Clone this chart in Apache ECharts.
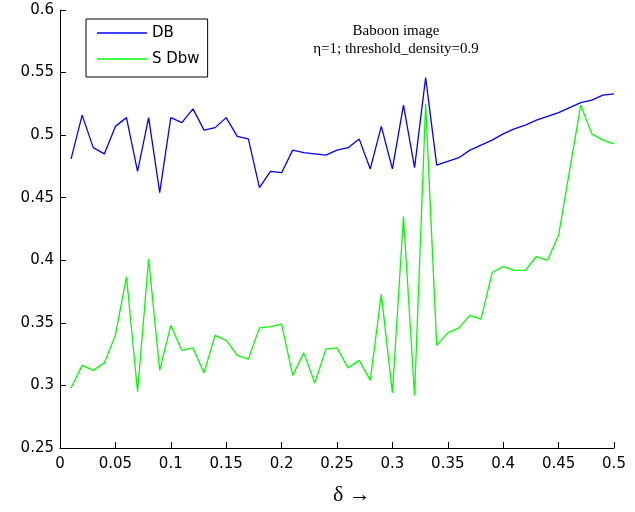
<!DOCTYPE html>
<html>
<head>
<meta charset="utf-8">
<script src="https://cdn.jsdelivr.net/npm/echarts@6/dist/echarts.min.js"></script>
<style>html,body{margin:0;padding:0;background:#fff;}#c{width:635px;height:512px;}</style>
</head>
<body>
<div id="c"></div>
<script>
var deltas = [0.01,0.02,0.03,0.04,0.05,0.06,0.07,0.08,0.09,0.10,
              0.11,0.12,0.13,0.14,0.15,0.16,0.17,0.18,0.19,0.20,
              0.21,0.22,0.23,0.24,0.25,0.26,0.27,0.28,0.29,0.30,
              0.31,0.32,0.33,0.34,0.35,0.36,0.37,0.38,0.39,0.40,
              0.41,0.42,0.43,0.44,0.45,0.46,0.47,0.48,0.49,0.50];
var dbValues = [0.481,0.516,0.490,0.485,0.507,0.514,0.471,0.514,0.454,0.514,
                0.510,0.521,0.504,0.506,0.514,0.499,0.497,0.458,0.471,0.470,
                0.488,0.486,0.485,0.484,0.488,0.490,0.497,0.473,0.507,0.473,
                0.524,0.474,0.546,0.476,0.479,0.482,0.488,0.492,0.496,0.501,
                0.505,0.508,0.512,0.515,0.518,0.522,0.526,0.528,0.532,0.533];
var sdbwValues = [0.298,0.316,0.312,0.318,0.340,0.387,0.295,0.401,0.312,0.348,
                  0.328,0.330,0.310,0.340,0.336,0.324,0.321,0.346,0.347,0.349,
                  0.308,0.326,0.302,0.329,0.330,0.314,0.320,0.304,0.373,0.294,
                  0.435,0.292,0.525,0.332,0.342,0.346,0.356,0.353,0.390,0.395,
                  0.392,0.392,0.403,0.400,0.420,0.472,0.524,0.501,0.496,0.493];
var seriesNames = ['DB', 'S Dbw'];
var titleLines = ['Baboon image', 'η=1; threshold_density=0.9'];
var xAxisName = 'δ →';

function zip(xs, ys){ return xs.map(function(x,i){ return [x, ys[i]]; }); }

var chart = echarts.init(document.getElementById('c'));
var sans = 'DejaVu Sans';
chart.setOption({
  animation: false,
  backgroundColor: '#fff',
  grid: { left: 60, right: 21, top: 10, bottom: 64, containLabel: false },
  title: {
    text: titleLines.join('\n'),
    left: 391, top: 17, textAlign: 'center',
    textStyle: { fontFamily: 'Liberation Serif', fontSize: 15, fontWeight: 'normal', color: '#000', lineHeight: 18 }
  },
  legend: {
    orient: 'vertical', left: 86, top: 19,
    padding: [5, 8, 9, 11], itemGap: 8, itemWidth: 50, itemHeight: 1.5,
    icon: 'rect',
    borderColor: '#000', borderWidth: 1, backgroundColor: '#fff',
    textStyle: { fontFamily: sans, fontSize: 15, color: '#000', lineHeight: 18 },
    data: seriesNames
  },
  xAxis: {
    type: 'value', min: 0, max: 0.5, interval: 0.05,
    axisLine: { show: true, lineStyle: { color: '#000', width: 1 } },
    axisTick: { show: true, inside: true, length: 6, lineStyle: { color: '#000' } },
    axisLabel: { fontFamily: sans, fontSize: 15, color: '#000', margin: 9 },
    splitLine: { show: false }
  },
  yAxis: {
    type: 'value', min: 0.25, max: 0.6, interval: 0.05,
    axisLine: { show: true, lineStyle: { color: '#000', width: 1 } },
    axisTick: { show: true, inside: true, length: 6, lineStyle: { color: '#000' } },
    axisLabel: { fontFamily: sans, fontSize: 15, color: '#000', margin: 6 },
    splitLine: { show: false }
  },
  graphic: [{
    type: 'text', left: 333, top: 484,
    style: { text: xAxisName, font: '22px "Liberation Serif"', fill: '#000' }
  }],
  series: [
    { name: seriesNames[0], type: 'line', symbol: 'none', data: zip(deltas, dbValues),
      lineStyle: { color: '#0000ff', width: 1.3 }, itemStyle: { color: '#0000ff' } },
    { name: seriesNames[1], type: 'line', symbol: 'none', data: zip(deltas, sdbwValues),
      lineStyle: { color: '#00ff00', width: 1.3 }, itemStyle: { color: '#00ff00' } }
  ]
});
</script>
</body>
</html>
